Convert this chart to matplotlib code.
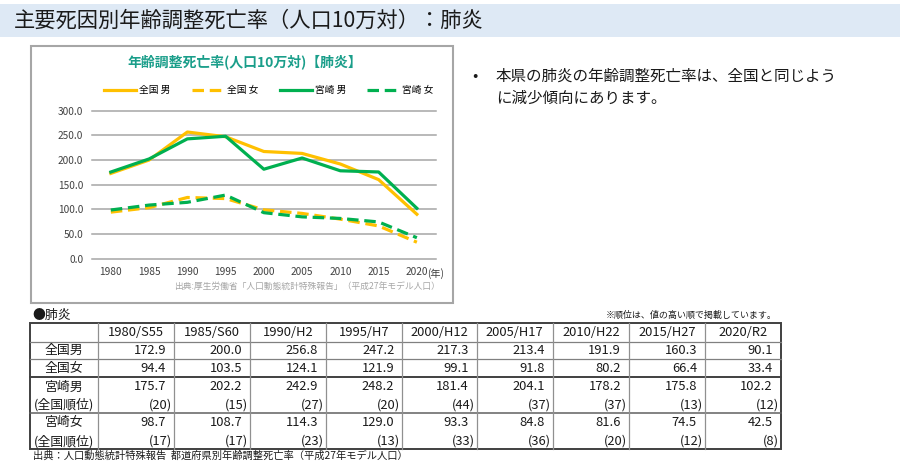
import matplotlib as mpl
mpl.use("Agg")

import matplotlib.pyplot as plt             # noqa
from matplotlib.patches import Rectangle    # noqa

plt.rcParams['font.family'] = ['Noto Sans CJK JP', 'DejaVu Sans']

# data (age adjusted death rate, pneumonia, per 100k)
years      = ['1980', '1985', '1990', '1995', '2000', '2005', '2010', '2015', '2020']
col_labels = ['1980/S55', '1985/S60', '1990/H2', '1995/H7', '2000/H12',
              '2005/H17', '2010/H22', '2015/H27', '2020/R2']
zenkoku_m  = [172.9, 200.0, 256.8, 247.2, 217.3, 213.4, 191.9, 160.3, 90.1]
zenkoku_f  = [94.4, 103.5, 124.1, 121.9, 99.1, 91.8, 80.2, 66.4, 33.4]
miyazaki_m = [175.7, 202.2, 242.9, 248.2, 181.4, 204.1, 178.2, 175.8, 102.2]
miyazaki_f = [98.7, 108.7, 114.3, 129.0, 93.3, 84.8, 81.6, 74.5, 42.5]
rank_m     = [20, 15, 27, 20, 44, 37, 37, 13, 12]
rank_f     = [17, 17, 23, 13, 33, 36, 20, 12, 8]
yticks     = [0, 50, 100, 150, 200, 250, 300]

YELLOW = '#FFC000'
GREEN  = '#00B050'
TEAL   = '#1a9e8a'

W, H = 900, 469
fig = plt.figure(figsize=(W / 100, H / 100), dpi=100)

# background canvas in pixel coordinates
bg = fig.add_axes([0, 0, 1, 1], zorder=0)
bg.set_xlim(0, W)
bg.set_ylim(H, 0)
bg.axis('off')

# title band
bg.add_patch(Rectangle((0, 4), W, 33, color='#dee9f5', lw=0))
bg.text(14, 20.5, '主要死因別年齢調整死亡率（人口10万対）：肺炎', fontsize=15.3,
        color='#1a1a1a', va='center', ha='left')

# chart frame
bg.add_patch(Rectangle((31, 46), 422, 257, fill=False, ec='#a6a6a6', lw=1.5))
bg.text(245, 61.5, '年齢調整死亡率(人口10万対)【肺炎】', fontsize=10, color=TEAL,
        fontweight='bold', ha='center', va='center')
bg.text(440, 286.5, '出典:厚生労働省「人口動態統計特殊報告」（平成27年モデル人口）',
        fontsize=6.3, color='#a6a6a6', ha='right', va='center')
bg.text(427, 274, '(年)', fontsize=7.3, color='#404040', ha='left', va='center')

# bullet text
bg.text(472, 76, '•', fontsize=11.2, color='#1a1a1a', ha='left', va='center')
bg.text(496, 76, '本県の肺炎の年齢調整死亡率は、全国と同じよう', fontsize=11.2,
        color='#1a1a1a', ha='left', va='center')
bg.text(496, 98, 'に減少傾向にあります。', fontsize=11.2,
        color='#1a1a1a', ha='left', va='center')

# line chart
l, t, r, b = 91.7, 110.7, 436.0, 258.7
ax = fig.add_axes([l / W, 1 - b / H, (r - l) / W, (b - t) / H], zorder=1)
ax.patch.set_alpha(0)
x = list(range(len(years)))
dash = (0, (3.6, 1.8))
ax.plot(x, zenkoku_m, color=YELLOW, lw=2.3, label='全国 男')
ax.plot(x, zenkoku_f, color=YELLOW, lw=2.3, ls=dash, label='全国 女')
ax.plot(x, miyazaki_m, color=GREEN, lw=2.3, label='宮崎 男')
ax.plot(x, miyazaki_f, color=GREEN, lw=2.3, ls=dash, label='宮崎 女')
for yv in yticks:
  ax.axhline(yv, color='#a6a6a6', lw=1.1, zorder=0, clip_on=False)
ax.set_xlim(-0.5, len(years) - 0.5)
ax.set_ylim(0, 300)
ax.set_xticks(x)
ax.set_xticklabels(years)
ax.set_yticks(yticks)
ax.set_yticklabels(['%.1f' % v for v in yticks])
ax.tick_params(length=0, labelsize=7.3, colors='#404040')
ax.tick_params(axis='y', pad=6)
ax.tick_params(axis='x', pad=6)
for s in ax.spines.values():
  s.set_visible(False)
ax.legend(ncol=4, loc='center', bbox_to_anchor=(0.515, (b - 90) / (b - t)),
          frameon=False, fontsize=7, handlelength=3.3, handletextpad=0.3,
          columnspacing=2.2)

# table
bg.text(32, 315, '●肺炎', fontsize=9.3, color='#1a1a1a', ha='left', va='center')
bg.text(777, 315, '※順位は、値の高い順で掲載しています。', fontsize=6.5,
        color='#1a1a1a', ha='right', va='center')

col_x = [30, 98.3, 174, 250, 326, 402.3, 476.7, 552.7, 629, 705, 780.7]
row_y = [323.3, 341.7, 359.3, 377.3, 413.3, 449.3]

for yy in row_y[1:3]:
  bg.plot([col_x[0], col_x[-1]], [yy, yy], color='#808080', lw=0.9)
bg.plot([col_x[0], col_x[-1]], [row_y[4], row_y[4]], color='#606060', lw=1.1)
bg.plot([col_x[0], col_x[-1]], [row_y[3], row_y[3]], color='#404040', lw=1.4)
for xx in col_x[1:-1]:
  bg.plot([xx, xx], [row_y[0], row_y[-1]], color='#909090', lw=0.9)
bg.add_patch(Rectangle((col_x[0], row_y[0]), col_x[-1] - col_x[0],
                       row_y[-1] - row_y[0], fill=False, ec='#404040', lw=1.4))

fs = 9.3
tc = '#1a1a1a'
for i, lab in enumerate(col_labels):
  cx = (col_x[i + 1] + col_x[i + 2]) / 2
  bg.text(cx, 332.5, lab, fontsize=fs, color=tc, ha='center', va='center')

row_names = ['全国男', '全国女', '宮崎男', '(全国順位)', '宮崎女', '(全国順位)']
row_cy    = [350.5, 368.3, 387, 405, 422.7, 441.5]
row_vals  = [zenkoku_m, zenkoku_f, miyazaki_m, rank_m, miyazaki_f, rank_f]
name_cx = (col_x[0] + col_x[1]) / 2
for name, cy, vals in zip(row_names, row_cy, row_vals):
  bg.text(name_cx, cy, name, fontsize=fs, color=tc, ha='center', va='center')
  is_rank = isinstance(vals[0], int)
  for i, v in enumerate(vals):
    if is_rank:
      bg.text(col_x[i + 2] - 2, cy, '(%d)' % v, fontsize=fs, color=tc,
              ha='right', va='center')
    else:
      bg.text(col_x[i + 2] - 8, cy, '%.1f' % v, fontsize=fs, color=tc,
              ha='right', va='center')

bg.text(33, 456, '出典：人口動態統計特殊報告  都道府県別年齢調整死亡率（平成27年モデル人口）',
        fontsize=7.4, color='#1a1a1a', ha='left', va='center')

plt.savefig('out.png', dpi=100)
